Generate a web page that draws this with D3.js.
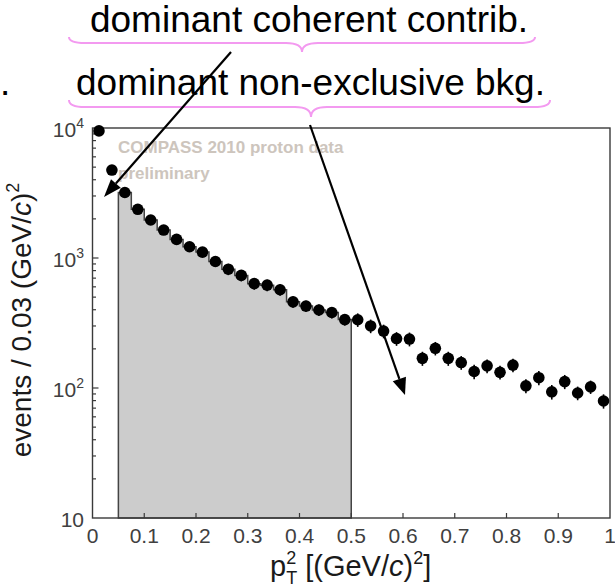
<!DOCTYPE html>
<html>
<head>
<meta charset="utf-8">
<script src="https://cdn.jsdelivr.net/npm/d3@7"></script>
<style>
  html, body { margin: 0; padding: 0; background: #fff; }
  svg { display: block; }
  text { font-family: "Liberation Sans", Arial, Helvetica, sans-serif; }
</style>
</head>
<body>
<svg id="chart" width="615" height="588"></svg>
<script>
// p_T^2 bin centres (bin width 0.025 (GeV/c)^2)
const pt2Centers = [
  0.0125, 0.0375, 0.0625, 0.0875, 0.1125, 0.1375, 0.1625, 0.1875, 0.2125, 0.2375,
  0.2625, 0.2875, 0.3125, 0.3375, 0.3625, 0.3875, 0.4125, 0.4375, 0.4625, 0.4875,
  0.5125, 0.5375, 0.5625, 0.5875, 0.6125, 0.6375, 0.6625, 0.6875, 0.7125, 0.7375,
  0.7625, 0.7875, 0.8125, 0.8375, 0.8625, 0.8875, 0.9125, 0.9375, 0.9625, 0.9875
];
// events per bin
const events = [
  9500, 4750, 3190, 2370, 1960, 1640, 1390, 1220, 1110, 940,
  820, 735, 635, 618, 570, 460, 427, 398, 381, 336,
  335, 300, 274, 240, 238, 169, 202, 169, 157, 134,
  148, 132, 150, 104, 120, 93.5, 112, 91.5, 102, 79.4
];
// statistical uncertainty per bin
const errors = [
  150, 110, 90, 75, 65, 60, 55, 50, 48, 44,
  82, 74, 64, 62, 57, 46, 43, 40, 38, 34,
  40, 36, 33, 29, 29, 21, 24, 21, 19, 17,
  18, 16, 18, 13, 15, 12, 14, 11, 12, 10
];
const binWidth = 0.025;
const shadedRange = [0.05, 0.5];

const xTickValues = [0, 0.1, 0.2, 0.3, 0.4, 0.5, 0.6, 0.7, 0.8, 0.9, 1];
const xTickLabels = ["0", "0.1", "0.2", "0.3", "0.4", "0.5", "0.6", "0.7", "0.8", "0.9", "1"];
const yMajorValues = [10, 100, 1000, 10000];
const yMajorExponents = ["", "2", "3", "4"];

const noteTop = "dominant coherent contrib.";
const noteBottom = "dominant non-exclusive bkg.";
const watermark = ["COMPASS 2010 proton data", "preliminary"];

// ---- layout ----
const plot = { left: 92.5, right: 610, top: 128, bottom: 518 };
const svg = d3.select("#chart");

const x = d3.scaleLinear().domain([0, 1]).range([plot.left, plot.right]);
const y = d3.scaleLog().domain([10, 10000]).range([plot.bottom, plot.top]);

const axisColor = "#3a3a3a";
const labelColor = "#404040";

// watermark
const wm = svg.append("g").attr("fill", "#cdc5bd").attr("font-weight", "bold").attr("font-size", 17);
wm.append("text").attr("x", 118).attr("y", 153).text(watermark[0]);
wm.append("text").attr("x", 118).attr("y", 179).text(watermark[1]);

// shaded signal region drawn as a step histogram
const stepData = pt2Centers
  .map((c, i) => ({ lo: c - binWidth / 2, v: events[i] }))
  .filter(d => d.lo >= shadedRange[0] - 1e-9 && d.lo < shadedRange[1] - 1e-9);
stepData.push({ lo: shadedRange[1], v: stepData[stepData.length - 1].v });

const area = d3.area()
  .x(d => x(d.lo))
  .y0(y(10))
  .y1(d => y(d.v))
  .curve(d3.curveStepAfter);
svg.append("path")
  .datum(stepData)
  .attr("d", area)
  .attr("fill", "#cccccc")
  .attr("stroke", "#444")
  .attr("stroke-width", 1.5);

// axes frame
svg.append("rect")
  .attr("x", plot.left).attr("y", plot.top)
  .attr("width", plot.right - plot.left).attr("height", plot.bottom - plot.top)
  .attr("fill", "none").attr("stroke", axisColor).attr("stroke-width", 1.4);

// x ticks (inward)
const xt = svg.append("g");
xTickValues.forEach((v, i) => {
  if (i > 0 && i < xTickValues.length - 1) {
    xt.append("line")
      .attr("x1", x(v)).attr("x2", x(v))
      .attr("y1", plot.bottom).attr("y2", plot.bottom - 5)
      .attr("stroke", axisColor).attr("stroke-width", 1.2);
  }
  xt.append("text")
    .attr("x", x(v)).attr("y", 543)
    .attr("text-anchor", "middle")
    .attr("font-size", 21).attr("fill", labelColor)
    .text(xTickLabels[i]);
});

// y ticks (inward, log minor ticks)
const yt = svg.append("g");
y.ticks().forEach(v => {
  const major = Math.abs(Math.log10(v) - Math.round(Math.log10(v))) < 1e-9;
  if (v <= 10 || v >= 10000) return;
  yt.append("line")
    .attr("x1", plot.left).attr("x2", plot.left + (major ? 6 : 3.5))
    .attr("y1", y(v)).attr("y2", y(v))
    .attr("stroke", axisColor).attr("stroke-width", 1.2);
});
yMajorValues.forEach((v, i) => {
  const t = yt.append("text")
    .attr("x", 84).attr("y", y(v) + 9)
    .attr("text-anchor", "end")
    .attr("font-size", 21).attr("fill", labelColor);
  t.append("tspan").text("10");
  if (yMajorExponents[i]) {
    t.append("tspan").attr("font-size", 14).attr("dy", -9).text(yMajorExponents[i]);
  }
});

// data points with error bars
const pts = svg.append("g");
pts.selectAll("line.err")
  .data(pt2Centers)
  .join("line")
  .attr("class", "err")
  .attr("x1", d => x(d)).attr("x2", d => x(d))
  .attr("y1", (d, i) => y(events[i] + errors[i]))
  .attr("y2", (d, i) => y(events[i] - errors[i]))
  .attr("stroke", "#000").attr("stroke-width", 1.6);
pts.selectAll("circle")
  .data(pt2Centers)
  .join("circle")
  .attr("cx", d => x(d))
  .attr("cy", (d, i) => y(events[i]))
  .attr("r", 5.8)
  .attr("fill", "#000");

// axis titles
const xTitle = svg.append("text")
  .attr("x", 270).attr("y", 576)
  .attr("font-size", 29).attr("fill", "#1a1a1a");
xTitle.append("tspan").text("p");
xTitle.append("tspan").attr("font-size", 18).attr("dy", -12).text("2");
xTitle.append("tspan").attr("font-size", 18).attr("dx", -10).attr("dy", 20).text("T");
xTitle.append("tspan").attr("dy", -8).text(" [(GeV/");
xTitle.append("tspan").attr("font-style", "italic").text("c");
xTitle.append("tspan").text(")");
xTitle.append("tspan").attr("font-size", 18).attr("dy", -12).text("2");
xTitle.append("tspan").attr("dy", 12).text("]");

const yTitle = svg.append("text")
  .attr("transform", "translate(31,320) rotate(-90)")
  .attr("text-anchor", "middle")
  .attr("font-size", 28).attr("fill", "#1a1a1a");
yTitle.append("tspan").text("events / 0.03 (GeV/");
yTitle.append("tspan").attr("font-style", "italic").text("c");
yTitle.append("tspan").text(")");
yTitle.append("tspan").attr("font-size", 18).attr("dy", -12).text("2");

// annotations
const notes = svg.append("g").attr("font-size", 37).attr("fill", "#000");
notes.append("text").attr("x", 309).attr("y", 32).attr("text-anchor", "middle").text(noteTop);
notes.append("text").attr("x", 310.5).attr("y", 95).attr("text-anchor", "middle").text(noteBottom);
notes.append("text").attr("x", 0).attr("y", 95).text(".");

function bracePath(x0, x1, xc, yEnd, yMid, yTip) {
  const r = 16;
  return `M${x0},${yEnd} Q${x0},${yMid} ${x0 + r},${yMid} L${xc - r},${yMid} Q${xc},${yMid} ${xc},${yTip}` +
         ` Q${xc},${yMid} ${xc + r},${yMid} L${x1 - r},${yMid} Q${x1},${yMid} ${x1},${yEnd}`;
}
const braces = svg.append("g").attr("fill", "none").attr("stroke", "#f39af0").attr("stroke-width", 2);
braces.append("path").attr("d", bracePath(69, 535, 302, 37, 43, 52));
braces.append("path").attr("d", bracePath(69, 550, 311, 100, 107, 117));

function arrow(x1, y1, x2, y2, len, half) {
  const g = svg.append("g");
  const dx = x2 - x1, dy = y2 - y1, L = Math.hypot(dx, dy);
  const ux = dx / L, uy = dy / L;
  const bx = x2 - ux * len, by = y2 - uy * len;
  g.append("line").attr("x1", x1).attr("y1", y1).attr("x2", bx).attr("y2", by)
    .attr("stroke", "#000").attr("stroke-width", 2.2);
  g.append("path")
    .attr("d", `M${x2},${y2} L${bx - uy * half},${by + ux * half} L${bx + uy * half},${by - ux * half} Z`)
    .attr("fill", "#000");
}
arrow(231, 52, 104, 197, 18, 6.5);
arrow(310, 125, 405, 395, 17, 7);
</script>
</body>
</html>
